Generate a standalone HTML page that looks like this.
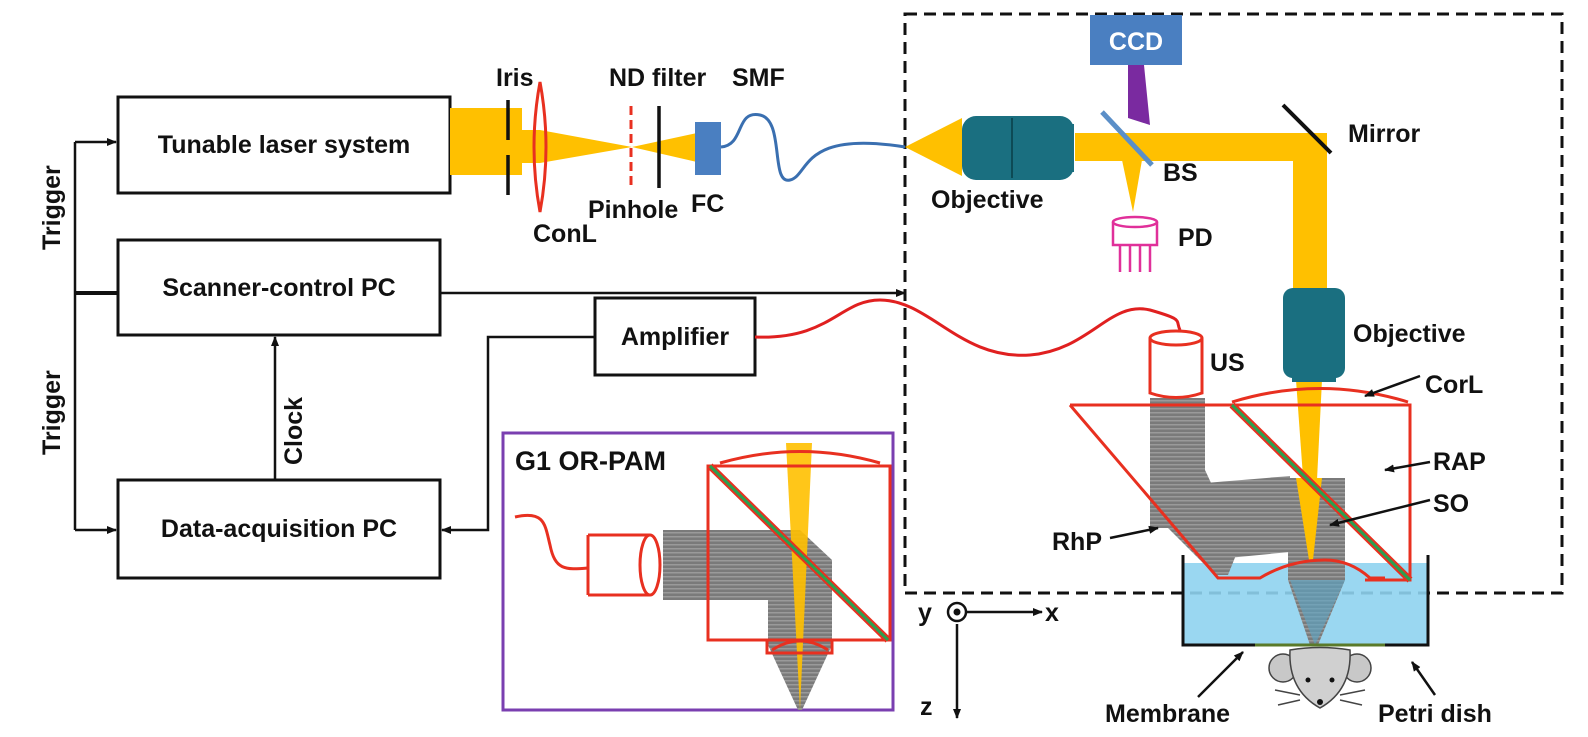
<!DOCTYPE html>
<html><head><meta charset="utf-8"><style>
body{margin:0;background:#fff}
svg text{font-family:"Liberation Sans",sans-serif;font-weight:bold;fill:#111}
</style></head><body>
<svg width="1588" height="732" viewBox="0 0 1588 732" xmlns="http://www.w3.org/2000/svg">
<defs>
<marker id="ar" markerWidth="10" markerHeight="10" refX="9" refY="5" orient="auto" markerUnits="userSpaceOnUse"><path d="M0,1 L10,5 L0,9 Z" fill="#111"/></marker>
<pattern id="hat" width="6" height="4" patternUnits="userSpaceOnUse"><rect width="6" height="4" fill="#7a7a7a"/><rect width="6" height="1.5" fill="#9a9a9a"/></pattern>
</defs>

<g fill="none" stroke="#111" stroke-width="3">
<rect x="118" y="97" width="332" height="96"/>
<rect x="118" y="240" width="322" height="95"/>
<rect x="595" y="298" width="160" height="77"/>
<rect x="118" y="480" width="322" height="98"/>
</g>
<g font-size="25">
<text x="284" y="153" text-anchor="middle">Tunable laser system</text>
<text x="279" y="296" text-anchor="middle">Scanner-control PC</text>
<text x="675" y="345" text-anchor="middle">Amplifier</text>
<text x="279" y="537" text-anchor="middle">Data-acquisition PC</text>
</g>
<g stroke="#111" stroke-width="2.5" fill="none">
<path d="M75,142 V530"/>
<path d="M75,142 H116" marker-end="url(#ar)"/>
<path d="M75,530 H116" marker-end="url(#ar)"/>
<path d="M75,293 H118" stroke-width="4"/>
<path d="M440,293 H905" marker-end="url(#ar)"/>
<path d="M275,480 V337" marker-end="url(#ar)"/>
<path d="M595,337 H488 V530 H442" marker-end="url(#ar)"/>
</g>
<text font-size="25" transform="translate(60,250) rotate(-90)">Trigger</text>
<text font-size="25" transform="translate(60,455) rotate(-90)">Trigger</text>
<text font-size="25" transform="translate(302,465) rotate(-90)">Clock</text>

<rect x="905" y="14" width="657" height="579" fill="none" stroke="#111" stroke-width="3" stroke-dasharray="12,7"/>

<g fill="#FFC000">
<rect x="450" y="108" width="72" height="67"/>
<path d="M522,130 L540,130 L632,147 L540,163 L522,163 Z"/>
<path d="M632,147 L697,133 L697,162 Z"/>
<path d="M905,147 L962,118 L962,176 Z"/>
<rect x="1075" y="133" width="252" height="28"/>
<rect x="1293" y="133" width="34" height="155"/>
<path d="M1122,160 L1142,160 L1133,212 Z"/>
<path d="M1296,380 L1322,380 L1313,560 L1309,560 Z"/>
</g>
<g stroke="#111" stroke-width="3.5">
<path d="M508,100 V140 M508,155 V195"/>
<path d="M659,106 V188"/>
</g>
<path d="M540,82 Q552,147 540,212 Q528,147 540,82 Z" fill="none" stroke="#e83020" stroke-width="3"/>
<path d="M631,106 V188" stroke="#e83020" stroke-width="3" stroke-dasharray="9,5"/>
<rect x="695" y="122" width="26" height="53" fill="#4a7fc1"/>
<path d="M721,147 C745,145 735,110 760,115 C785,120 770,185 790,180 C810,175 800,130 905,147" fill="none" stroke="#3a6fb0" stroke-width="3"/>
<rect x="962" y="116" width="112" height="64" rx="14" fill="#1a6f80"/>
<rect x="1062" y="124" width="12" height="48" fill="#1a6f80"/>
<path d="M1012,118 V178" stroke="#0d4a55" stroke-width="2"/>
<rect x="1090" y="15" width="92" height="50" fill="#4a7fc1"/>
<text x="1136" y="50" font-size="25" text-anchor="middle" style="fill:#fff">CCD</text>
<path d="M1128,65 L1144,65 L1150,125 L1128,118 Z" fill="#7a2aa0"/>
<path d="M1102,112 L1152,165" stroke="#5b8fc8" stroke-width="5"/>
<path d="M1283,105 L1331,153" stroke="#111" stroke-width="4"/>
<g stroke="#e0309a" stroke-width="2.5" fill="none">
<ellipse cx="1135" cy="222" rx="22" ry="5"/>
<path d="M1113,222 V245 H1157 V222"/>
<path d="M1120,245 V272 M1130,245 V272 M1140,245 V272 M1150,245 V272"/>
</g>
<rect x="1283" y="288" width="62" height="90" rx="10" fill="#1a6f80"/>
<rect x="1292" y="360" width="44" height="22" fill="#1a6f80"/>
<path d="M755,337 C830,340 840,300 880,300 C930,300 960,360 1030,355 C1090,350 1110,300 1150,310 C1185,320 1175,320 1180,330" fill="none" stroke="#e02020" stroke-width="3"/>
<rect x="1183" y="563" width="245" height="82" fill="#8fd3f0" opacity="0.9"/>
<rect x="1150" y="398" width="55" height="130" fill="url(#hat)"/>
<path d="M1150,470 L1205,470 L1240,545 L1228,575 L1215,575 L1150,510 Z" fill="url(#hat)"/>
<path d="M1205,483 L1290,476 L1290,552 L1228,558 Z" fill="url(#hat)"/>
<path d="M1288,478 L1345,478 L1345,580 L1318,645 L1310,645 L1288,580 Z" fill="url(#hat)"/>
<path d="M1290,580 L1345,580 L1315,645 Z" fill="#5aa7c8" opacity="0.6"/>
<path d="M1296,478 L1322,478 L1313,560 L1309,560 Z" fill="#FFC000"/>
<g stroke="#e83020" stroke-width="3" fill="#fff">
<path d="M1150,338 V393 Q1176,402 1202,393 V338"/>
<ellipse cx="1176" cy="338" rx="26" ry="7"/>
</g>
<g stroke="#e83020" stroke-width="3" fill="none">
<path d="M1070,405 H1410 V580 H1385 L1365,580"/>
<path d="M1070,405 L1218,578 H1260 Q1290,560 1325,560 Q1350,560 1370,578 H1385"/>
<path d="M1232,402 Q1320,375 1408,402"/>
</g>
<path d="M1232,405 L1410,580" stroke="#e83020" stroke-width="7"/>
<path d="M1232,405 L1410,580" stroke="#2aa050" stroke-width="3"/>
<g stroke="#111" stroke-width="3" fill="none">
<path d="M1183,555 V645 H1255"/>
<path d="M1428,555 V645 H1385"/>
</g>
<path d="M1255,645 H1385" stroke="#5a7a2a" stroke-width="3"/>
<g stroke="#444" stroke-width="1.5">
<circle cx="1283" cy="668" r="14" fill="#c8c8c8"/>
<circle cx="1357" cy="668" r="14" fill="#c8c8c8"/>
<path d="M1290,650 Q1320,645 1350,650 Q1352,690 1320,708 Q1288,690 1290,650 Z" fill="#d0d0d0"/>
<path d="M1300,695 L1275,690 M1300,700 L1278,705 M1340,695 L1365,690 M1340,700 L1362,705" fill="none"/>
</g>
<circle cx="1308" cy="680" r="2.5" fill="#111"/><circle cx="1332" cy="680" r="2.5" fill="#111"/>
<circle cx="1320" cy="702" r="3" fill="#111"/>
<g stroke="#111" stroke-width="2.5" fill="none">
<path d="M1420,376 L1365,396" marker-end="url(#ar)"/>
<path d="M1430,462 L1385,470" marker-end="url(#ar)"/>
<path d="M1430,500 L1330,525" marker-end="url(#ar)"/>
<path d="M1110,538 L1158,528" marker-end="url(#ar)"/>
<path d="M1198,697 L1243,652" marker-end="url(#ar)"/>
<path d="M1435,695 L1412,662" marker-end="url(#ar)"/>
<path d="M957,612 H1042" marker-end="url(#ar)"/>
<path d="M957,624 V718" marker-end="url(#ar)"/>
</g>
<circle cx="957" cy="612" r="9" fill="#fff" stroke="#111" stroke-width="2.5"/>
<circle cx="957" cy="612" r="3.5" fill="#111"/>

<g font-size="25">
<text x="496" y="86">Iris</text>
<text x="533" y="242">ConL</text>
<text x="609" y="86">ND filter</text>
<text x="732" y="86">SMF</text>
<text x="588" y="218">Pinhole</text>
<text x="691" y="212">FC</text>
<text x="931" y="208">Objective</text>
<text x="1163" y="181">BS</text>
<text x="1178" y="246">PD</text>
<text x="1348" y="142">Mirror</text>
<text x="1353" y="342">Objective</text>
<text x="1210" y="371">US</text>
<text x="1425" y="393">CorL</text>
<text x="1433" y="470">RAP</text>
<text x="1433" y="512">SO</text>
<text x="1052" y="550">RhP</text>
<text x="1105" y="722">Membrane</text>
<text x="1378" y="722">Petri dish</text>
<text x="918" y="621">y</text>
<text x="1045" y="621">x</text>
<text x="920" y="715">z</text>
</g>

<rect x="503" y="433" width="390" height="277" fill="none" stroke="#7a3fb0" stroke-width="3"/>
<text x="515" y="470" font-size="27">G1 OR-PAM</text>
<path d="M663,530 H768 V600 H663 Z" fill="url(#hat)"/>
<path d="M768,530 H800 L832,560 V645 L802,710 L798,710 L768,645 Z" fill="url(#hat)"/>
<path d="M786,443 L812,443 L800,710 Z" fill="#FFC000" opacity="0.9"/>
<g stroke="#e83020" stroke-width="3" fill="none">
<rect x="708" y="466" width="182" height="174"/>
<path d="M720,463 Q800,440 880,463"/>
<path d="M767,640 V653 H832 V640"/>
<path d="M772,650 Q800,632 828,650"/>
<path d="M588,535 H650 M588,595 H650 M588,535 V595"/>
<ellipse cx="650" cy="565" rx="10" ry="30"/>
<path d="M515,517 C545,510 545,525 550,545 C555,570 565,570 588,568"/>
</g>
<path d="M710,466 L888,640" stroke="#e83020" stroke-width="7"/>
<path d="M710,466 L888,640" stroke="#2aa050" stroke-width="3"/>
</svg>
</body></html>
